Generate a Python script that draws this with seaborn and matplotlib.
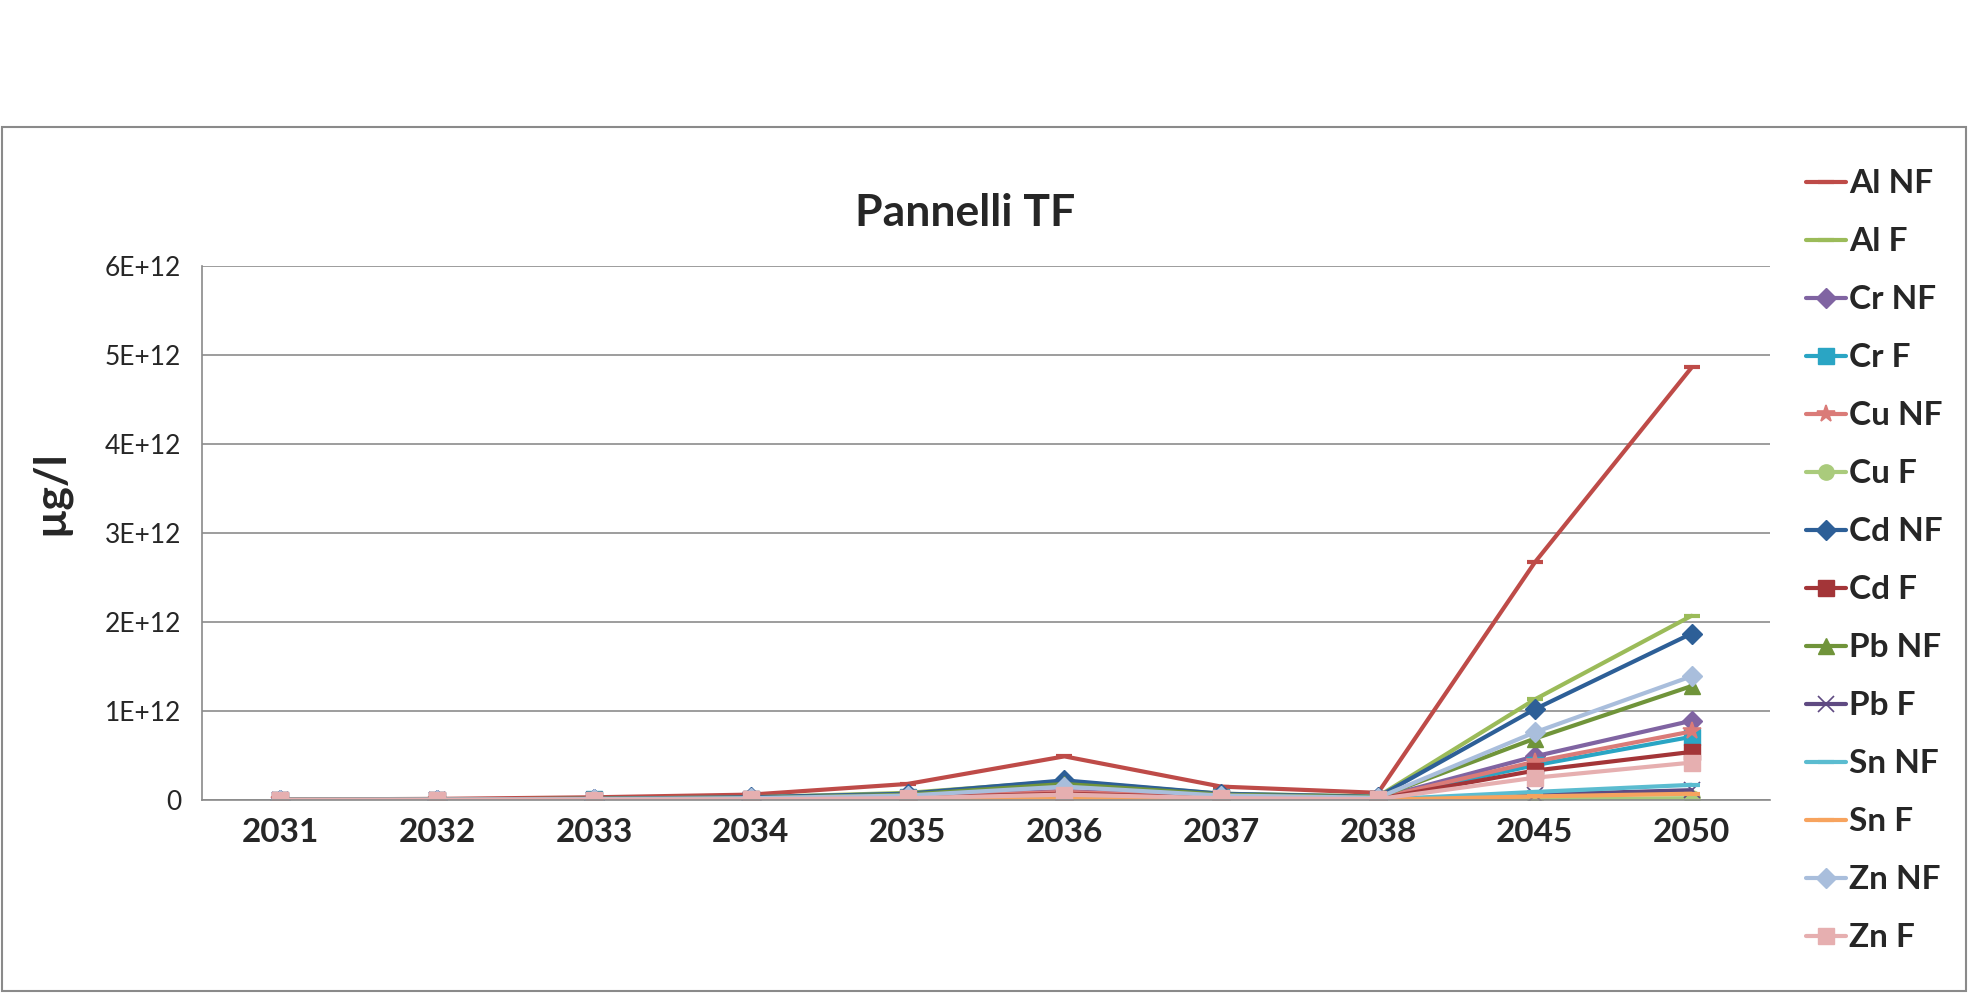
import numpy as np
import pandas as pd
import seaborn as sns
import matplotlib
matplotlib.use("Agg")
import matplotlib.pyplot as plt
from matplotlib.patches import Rectangle
from matplotlib.ticker import FuncFormatter, FixedLocator

years = ["2031", "2032", "2033", "2034", "2035", "2036", "2037", "2038", "2045", "2050"]

# values in units of 1E12 ug/l
al_nf = [0.005, 0.012, 0.03, 0.06, 0.18, 0.49, 0.15, 0.08, 2.67, 4.86]
al_f = [0.002, 0.005, 0.015, 0.03, 0.08, 0.21, 0.07, 0.04, 1.13, 2.07]
cr_nf = [0.001, 0.003, 0.008, 0.015, 0.04, 0.10, 0.04, 0.02, 0.49, 0.89]
cr_f = [0.001, 0.002, 0.006, 0.012, 0.03, 0.08, 0.03, 0.015, 0.39, 0.71]
cu_nf = [0.001, 0.003, 0.007, 0.013, 0.035, 0.09, 0.035, 0.018, 0.43, 0.77]
cu_f = [0.0, 0.0, 0.0, 0.0, 0.001, 0.003, 0.001, 0.0, 0.01, 0.02]
cd_nf = [0.002, 0.005, 0.013, 0.03, 0.07, 0.22, 0.07, 0.035, 1.02, 1.87]
cd_f = [0.001, 0.002, 0.005, 0.01, 0.025, 0.07, 0.025, 0.012, 0.33, 0.54]
pb_nf = [0.002, 0.004, 0.01, 0.02, 0.06, 0.18, 0.06, 0.03, 0.69, 1.28]
pb_f = [0.0, 0.0, 0.001, 0.002, 0.005, 0.015, 0.005, 0.002, 0.06, 0.11]
sn_nf = [0.0, 0.001, 0.002, 0.003, 0.008, 0.025, 0.008, 0.004, 0.09, 0.17]
sn_f = [0.0, 0.0, 0.001, 0.001, 0.004, 0.01, 0.004, 0.002, 0.04, 0.07]
zn_nf = [0.002, 0.004, 0.01, 0.02, 0.05, 0.15, 0.05, 0.025, 0.76, 1.39]
zn_f = [0.001, 0.002, 0.004, 0.008, 0.02, 0.06, 0.02, 0.01, 0.25, 0.42]

labels = ["Al NF", "Al F", "Cr NF", "Cr F", "Cu NF", "Cu F", "Cd NF", "Cd F",
          "Pb NF", "Pb F", "Sn NF", "Sn F", "Zn NF", "Zn F"]
series = [al_nf, al_f, cr_nf, cr_f, cu_nf, cu_f, cd_nf, cd_f,
          pb_nf, pb_f, sn_nf, sn_f, zn_nf, zn_f]
colors = ["#BE4B48", "#9BBB59", "#8064A2", "#2AA5C4", "#DA7B78", "#AACB7C", "#2D5F97",
          "#A33538", "#70943A", "#5F4A82", "#5BBCD0", "#F7A35E", "#A9BEDC", "#E6AFB0"]
markers = ["_", "_", "D", "s", "*", "o", "D", "s", "^", "x", "_", "_", "D", "s"]
msizes = {"_": 11, "D": 10, "s": 11, "*": 13, "o": 11, "^": 11, "x": 11}

sns.set_style("white")
plt.rcParams["font.family"] = ["Lato", "DejaVu Sans"]

fig = plt.figure(figsize=(19.7, 9.93), dpi=100)
fig.patches.append(Rectangle((0.001, 0.002), 0.997, 0.870, transform=fig.transFigure,
                             fill=False, edgecolor="#8a8a8a", linewidth=1.5))
ax = fig.add_axes([0.1025, 0.1944, 0.796, 0.5377])

pos = list(range(len(years)))
for lab, vals, col, mk in zip(labels, series, colors, markers):
    y = np.array(vals) * 1e12
    mew = 3 if mk == "_" else (1.2 if mk in ("x", "*") else 1)
    sns.lineplot(x=pos, y=y, ax=ax, color=col, linewidth=3.0, marker=mk,
                 markersize=msizes[mk], markeredgewidth=mew, markeredgecolor=col,
                 label=lab)

ax.set_xlim(-0.5, len(years) - 0.5)
ax.set_ylim(0, 6e12)
ax.set_xticks(pos)
ax.set_xticklabels(years, fontsize=24, fontweight="bold")
ax.xaxis.set_minor_locator(FixedLocator(np.arange(-0.5, len(years), 1.0)))
ax.tick_params(axis="x", which="major", length=0, pad=13)
ax.tick_params(axis="x", which="minor", length=10, color="#8a8a8a", width=1.2, direction="out")
ax.set_yticks(np.arange(0, 7e12, 1e12))
ax.yaxis.set_major_formatter(FuncFormatter(lambda v, p: "0" if v == 0 else "%dE+12" % round(v / 1e12)))
ax.tick_params(axis="y", length=9, color="#8a8a8a", width=1.2, direction="out", labelsize=19, pad=6)
ax.grid(axis="y", color="#8c8c8c", linewidth=1.2)
ax.set_axisbelow(True)
for s in ["top", "right"]:
    ax.spines[s].set_visible(False)
for s in ["left", "bottom"]:
    ax.spines[s].set_color("#8a8a8a")
    ax.spines[s].set_linewidth(1.2)

ax.set_ylabel("")
fig.text(0.0254, 0.5035, "µg/l", fontsize=32, fontweight="bold", rotation=90,
         ha="center", va="center")
fig.text(0.490, 0.785, "Pannelli TF", fontsize=32, fontweight="bold", ha="center", va="center")

leg = ax.legend(loc="upper left", bbox_to_anchor=(0.910, 0.843), bbox_transform=fig.transFigure,
                frameon=False, fontsize=24, labelspacing=0.87, handlelength=1.2,
                handletextpad=0.1, borderaxespad=0)
for t in leg.get_texts():
    t.set_fontweight("bold")

fig.savefig("out.png", dpi=100, facecolor="white")
